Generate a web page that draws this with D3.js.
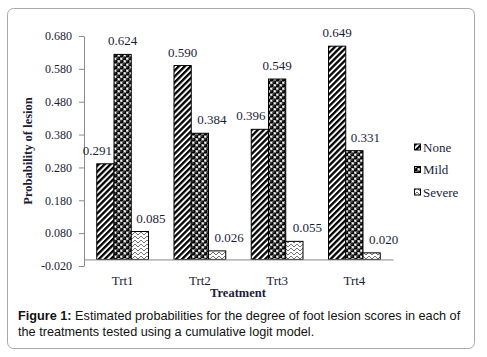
<!DOCTYPE html>
<html>
<head>
<meta charset="utf-8">
<script src="https://cdn.jsdelivr.net/npm/d3@7/dist/d3.min.js"></script>
<style>
  html, body { margin: 0; padding: 0; background: #fff; }
  svg { display: block; }
</style>
</head>
<body>
<svg id="chart" width="487" height="357"></svg>
<script>
// data
const categories = ["Trt1", "Trt2", "Trt3", "Trt4"];
const series = ["None", "Mild", "Severe"];
const noneVals = [0.291, 0.590, 0.396, 0.649];
const mildVals = [0.624, 0.384, 0.549, 0.331];
const severeVals = [0.085, 0.026, 0.055, 0.020];
const yTicks = [-0.02, 0.08, 0.18, 0.28, 0.38, 0.48, 0.58, 0.68];

// label nudges (Excel moved a few labels sideways to avoid overlap)
const LABEL_DX = {
  None: [-8, 0, -9, 0],
  Mild: [0, 12, 0, 11],
  Severe: [11, 12, 13, 12],
};

const TEXT = "#1c1c3a";
const AXIS = "#8a8a8a";
const SERIF = "'Liberation Serif', 'Times New Roman', serif";

const svg = d3.select("#chart");
const defs = svg.append("defs");

// --- fill patterns ---
// None: dense upward diagonal hatch
const hatch = defs.append("pattern")
  .attr("id", "pat-none")
  .attr("patternUnits", "userSpaceOnUse")
  .attr("width", 4.2).attr("height", 4.2)
  .attr("patternTransform", "rotate(45)");
hatch.append("rect").attr("width", 4.2).attr("height", 4.2).attr("fill", "#fff");
hatch.append("rect").attr("width", 2.3).attr("height", 4.2).attr("fill", "#000");

// Mild: checkered spheres
const sph = defs.append("pattern")
  .attr("id", "pat-mild")
  .attr("patternUnits", "userSpaceOnUse")
  .attr("width", 6).attr("height", 6);
sph.append("rect").attr("width", 6).attr("height", 6).attr("fill", "#fff");
[[1.5, 4.5], [4.5, 1.5]].forEach(([cx, cy]) => {
  sph.append("rect").attr("x", cx - 1.5).attr("y", cy - 1.5).attr("width", 3).attr("height", 3)
    .attr("fill", "none").attr("stroke", "#000").attr("stroke-width", 0.4);
});
[[1.5, 1.5], [4.5, 4.5]].forEach(([cx, cy]) => {
  sph.append("circle").attr("cx", cx).attr("cy", cy).attr("r", 2.0).attr("fill", "#000");
  sph.append("circle").attr("cx", cx - 0.6).attr("cy", cy - 0.6).attr("r", 0.6).attr("fill", "#aaa");
});

// Severe: light zigzag weave
const zig = defs.append("pattern")
  .attr("id", "pat-severe")
  .attr("patternUnits", "userSpaceOnUse")
  .attr("width", 6).attr("height", 4);
zig.append("rect").attr("width", 6).attr("height", 4).attr("fill", "#fff");
zig.append("path")
  .attr("d", "M0,3 L3,0 L6,3 M0,7 L3,4 L6,7 M0,-1 L3,-4 L6,-1")
  .attr("fill", "none").attr("stroke", "#666").attr("stroke-width", 0.9);

const FILL = { None: "url(#pat-none)", Mild: "url(#pat-mild)", Severe: "url(#pat-severe)" };

// --- frame ---
svg.append("rect")
  .attr("x", 7.5).attr("y", 8.5)
  .attr("width", 467).attr("height", 340)
  .attr("rx", 6)
  .attr("fill", "#fff")
  .attr("stroke", "#a8a8a8");

// --- scales ---
const x = d3.scaleBand()
  .domain(categories)
  .range([84, 393])
  .paddingInner(0.33)
  .paddingOuter(0.165);

const xSub = d3.scaleBand()
  .domain(series)
  .range([0, x.bandwidth()]);

const y = d3.scaleLinear()
  .domain([-0.02, 0.68])
  .range([266, 36]);

const rows = [];
series.forEach((s) => {
  const vals = s === "None" ? noneVals : s === "Mild" ? mildVals : severeVals;
  vals.forEach((v, i) => rows.push({ series: s, cat: categories[i], i, value: v }));
});

// --- y axis ---
const fmt = d3.format(".3f");
const yAxis = svg.append("g")
  .attr("transform", "translate(84,0)")
  .call(d3.axisLeft(y).tickValues(yTicks)
    .tickFormat((d) => fmt(d).replace("\u2212", "-"))
    .tickSize(5).tickPadding(7).tickSizeOuter(0));
yAxis.select(".domain").attr("stroke", AXIS);
yAxis.selectAll(".tick line").attr("stroke", AXIS);
yAxis.selectAll(".tick text")
  .attr("fill", TEXT)
  .attr("font-family", SERIF)
  .attr("font-size", 12);

// --- bars ---
const g = svg.append("g");
g.selectAll("rect.bar")
  .data(rows)
  .join("rect")
  .attr("class", "bar")
  .attr("x", (d) => x(d.cat) + xSub(d.series))
  .attr("y", (d) => y(d.value))
  .attr("width", xSub.bandwidth())
  .attr("height", (d) => y(0) - y(d.value))
  .attr("fill", (d) => FILL[d.series])
  .attr("stroke", "#000")
  .attr("stroke-width", 1);

// --- x axis (crosses at 0) ---
const xAxis = svg.append("g")
  .attr("transform", `translate(0,${y(0)})`)
  .call(d3.axisBottom(x).tickSize(0).tickPadding(16).tickSizeOuter(0));
xAxis.select(".domain").attr("stroke", AXIS);
xAxis.selectAll(".tick text")
  .attr("fill", TEXT)
  .attr("font-family", SERIF)
  .attr("font-size", 13);

// --- value labels ---
g.selectAll("text.val")
  .data(rows)
  .join("text")
  .attr("class", "val")
  .attr("x", (d) => x(d.cat) + xSub(d.series) + xSub.bandwidth() / 2 + LABEL_DX[d.series][d.i])
  .attr("y", (d) => y(d.value) - 9)
  .attr("text-anchor", "middle")
  .attr("font-family", SERIF)
  .attr("font-size", 13)
  .attr("fill", TEXT)
  .text((d) => d.value.toFixed(3));

// --- axis titles ---
svg.append("text")
  .attr("transform", "translate(32,151) rotate(-90)")
  .attr("text-anchor", "middle")
  .attr("font-family", SERIF)
  .attr("font-size", 12.5)
  .attr("font-weight", "bold")
  .attr("fill", TEXT)
  .text("Probability of lesion");

svg.append("text")
  .attr("x", 238).attr("y", 297)
  .attr("text-anchor", "middle")
  .attr("font-family", SERIF)
  .attr("font-size", 12.5)
  .attr("font-weight", "bold")
  .attr("fill", TEXT)
  .text("Treatment");

// --- legend ---
const legendY = d3.scalePoint().domain(series).range([147, 192]);
const lg = svg.append("g");
series.forEach((s) => {
  lg.append("rect")
    .attr("x", 414.5).attr("y", legendY(s) - 3)
    .attr("width", 6).attr("height", 6)
    .attr("fill", FILL[s])
    .attr("stroke", "#000");
  lg.append("text")
    .attr("x", 423).attr("y", legendY(s) + 4.5)
    .attr("font-family", SERIF)
    .attr("font-size", 13)
    .attr("fill", TEXT)
    .text(s);
});

// --- caption ---
const cap = svg.append("text")
  .attr("font-family", "'Liberation Sans', Arial, sans-serif")
  .attr("font-size", 12.7)
  .attr("fill", "#111");
const l1 = cap.append("tspan").attr("x", 18).attr("y", 320);
l1.append("tspan").attr("font-weight", "bold").text("Figure 1:");
l1.append("tspan").text(" Estimated probabilities for the degree of foot lesion scores in each of");
cap.append("tspan").attr("x", 18).attr("y", 336)
  .text("the treatments tested using a cumulative logit model.");
</script>
</body>
</html>
